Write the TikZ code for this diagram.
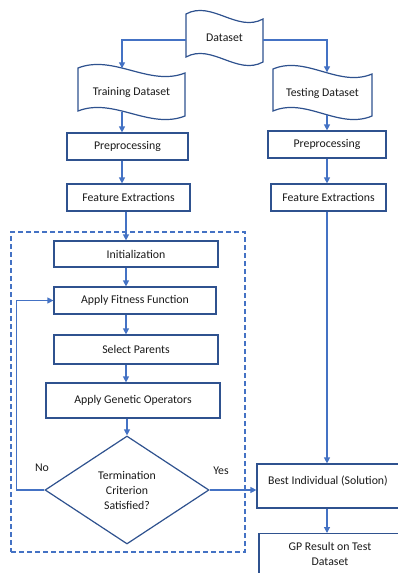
\documentclass[tikz,border=0pt]{standalone}
\usepackage{fontspec}
\setmainfont{Carlito}
\usetikzlibrary{arrows.meta,shapes.geometric,calc}
\definecolor{edgec}{HTML}{2F528F}
\definecolor{arrowc}{HTML}{4472C4}
\definecolor{txtc}{HTML}{1A1A1A}
\newcommand\tapeshape[4]{%
  \draw[boxline] (#1,#2) .. controls ({#1+#3/3},{#2-14}) and ({#1+2*#3/3},{#2+19}) .. ({#1+#3},{#2+5})
   -- ({#1+#3},{#2+#4+5}) .. controls ({#1+2*#3/3},{#2+#4+19}) and ({#1+#3/3},{#2+#4-14}) .. (#1,{#2+#4}) -- cycle;}
\begin{document}
\begin{tikzpicture}[x=1pt,y=-1pt,
  font=\fontsize{11.8}{15}\selectfont, text=txtc,
  boxline/.style={draw=edgec, line width=1.2pt},
  procbox/.style={boxline, rectangle, inner sep=2pt},
  tapenode/.style={inner sep=0pt, minimum height=43pt},
  arr/.style={draw=arrowc, line width=1.2pt, -{Triangle[length=6pt,width=6pt]}},
  dashbox/.style={draw=arrowc, line width=1.2pt, dash pattern=on 5pt off 3pt},
  decide/.style={boxline, diamond, inner sep=0pt, minimum width=164pt, minimum height=108pt, align=center},
  lbl/.style={inner sep=0pt}]
\useasboundingbox (0,0) rectangle (398,573);
\clip (0,0) rectangle (398,573);
\fill[white] (0,0) rectangle (398,573);

% dashed container
\node[dashbox, minimum width=234pt, minimum height=320pt] (gpbox) at (128,392) {};

% tapes
\tapeshape{186}{14}{77}{43}
\node[tapenode, minimum width=77pt] (ds) at (224.5,38) {Dataset};
\tapeshape{78}{68}{107}{43}
\node[tapenode, minimum width=107pt] (train) at (131.5,92) {Training Dataset};
\tapeshape{273}{69}{99}{42}
\node[tapenode, minimum width=99pt] (test) at (322.5,93) {Testing Dataset};

% process boxes
\node[procbox, minimum width=121pt, minimum height=27pt] (prepL) at (127.5,146.5) {Preprocessing};
\node[procbox, minimum width=118pt, minimum height=27pt] (prepR) at (327,144.5) {Preprocessing};
\node[procbox, minimum width=123pt, minimum height=27pt] (featL) at (128.5,197.5) {Feature Extractions};
\node[procbox, minimum width=115pt, minimum height=27pt] (featR) at (328.5,197.5) {Feature Extractions};
\node[procbox, minimum width=164pt, minimum height=26pt] (init) at (136,254) {Initialization};
\node[procbox, minimum width=162pt, minimum height=27pt] (fit) at (135,300.5) {Apply Fitness Function};
\node[procbox, minimum width=164pt, minimum height=29pt] (sel) at (136,349.5) {Select Parents};
\node[procbox, minimum width=174pt, minimum height=35pt] (gen) at (133,400.5) {Apply Genetic Operators};
\node[decide] (dia) at (127,490) {Termination\\Criterion\\Satisfied?};
\node[procbox, minimum width=142pt, minimum height=44pt, text height=8pt, text depth=11pt] (best) at (328,486) {Best Individual (Solution)};
\node[procbox, minimum width=142pt, inner ysep=9pt, anchor=north, align=center] (gp) at (330,533) {GP Result on Test\\Dataset};

\node[lbl] (no) at (42,468) {No};
\node[lbl] (yes) at (221,471) {Yes};

% columns for vertical connectors
\coordinate (colA) at (122,0);
\coordinate (colB) at (126,0);
\coordinate (colR) at (327,0);

% connectors
\draw[arr] ($(ds.west)+(0,2)$) -| ($(train.north -| colA)+(0,-2)$);
\draw[arr] ($(ds.east)+(0,2)$) -| ($(test.north -| colR)+(0,1)$);
\draw[arr] ($(train.south -| colA)+(0,-2)$) -- (prepL.north -| colA);
\draw[arr] (prepL.south -| colA) -- (featL.north -| colA);
\draw[arr] (featL.south -| colB) -- (init.north -| colB);
\draw[arr] (init.south -| colB) -- (fit.north -| colB);
\draw[arr] (fit.south -| colB) -- (sel.north -| colB);
\draw[arr] (sel.south -| colB) -- (gen.north -| colB);
\draw[arr] (gen.south -| dia.north) -- (dia.north);
\draw[arr] (dia.west) -- ++(-28,0) |- (fit.west);
\draw[arr] (dia.east) -- (dia.east -| best.west);
\draw[arr] (test.south -| colR) -- (prepR.north -| colR);
\draw[arr] (prepR.south -| colR) -- (featR.north -| colR);
\draw[arr] (featR.south -| colR) -- (best.north -| colR);
\draw[arr] (best.south -| colR) -- (gp.north -| colR);
\end{tikzpicture}
\end{document}
